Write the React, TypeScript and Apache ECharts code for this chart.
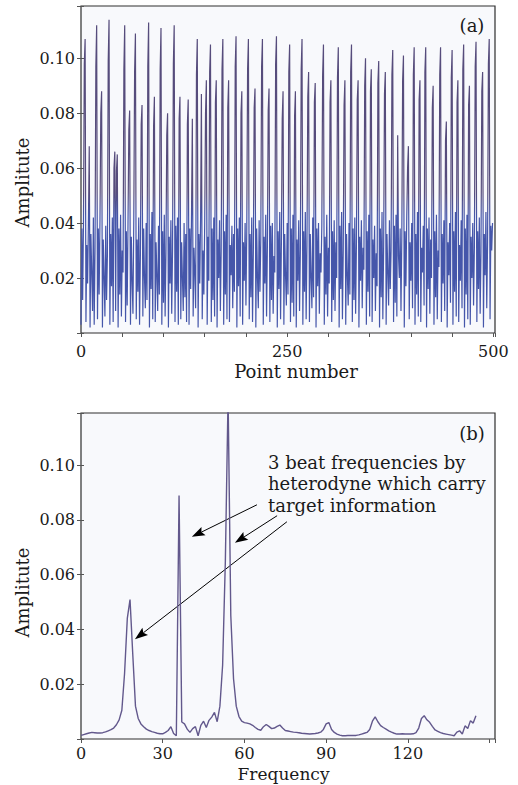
import React, { useEffect, useRef } from 'react';
import * as echarts from 'echarts';

// Panel (a): amplitude (x 0.001) for point numbers 0..499
const pointAmp: number[] = [
  3, 38, 12, 40, 98, 107, 4, 32, 18, 40,
  68, 2, 36, 22, 8, 42, 3, 30, 97, 112,
  5, 38, 14, 41, 80, 88, 2, 34, 20, 6,
  39, 12, 28, 99, 114, 3, 36, 17, 42, 4,
  60, 66, 8, 59, 65, 2, 38, 14, 43, 6,
  30, 22, 96, 112, 4, 37, 10, 40, 74, 81,
  3, 35, 19, 7, 41, 95, 109, 5, 34, 15,
  42, 3, 28, 76, 83, 6, 38, 20, 9, 40,
  12, 97, 113, 2, 36, 16, 44, 5, 75, 86,
  4, 33, 21, 8, 39, 14, 96, 111, 3, 37,
  11, 43, 6, 29, 72, 80, 2, 35, 18, 41,
  7, 30, 98, 112, 4, 39, 15, 42, 3, 78,
  86, 5, 33, 20, 8, 40, 13, 36, 4, 76,
  85, 3, 38, 16, 43, 78, 6, 31, 22, 9,
  94, 107, 2, 36, 18, 41, 87, 5, 30, 14,
  40, 80, 92, 3, 35, 19, 95, 105, 4, 38,
  12, 42, 6, 84, 92, 2, 34, 20, 41, 8,
  30, 96, 107, 3, 37, 14, 43, 5, 82, 92,
  4, 32, 21, 39, 9, 36, 15, 97, 108, 2,
  38, 17, 42, 6, 80, 88, 3, 33, 19, 40,
  10, 37, 96, 107, 5, 36, 13, 42, 4, 30,
  82, 89, 2, 38, 20, 9, 41, 15, 34, 97,
  107, 3, 35, 18, 43, 6, 31, 81, 89, 4,
  39, 12, 40, 7, 28, 22, 98, 108, 2, 37,
  16, 44, 5, 33, 78, 88, 3, 36, 21, 10,
  40, 14, 95, 105, 4, 38, 11, 43, 6, 79,
  88, 2, 34, 19, 41, 8, 30, 96, 107, 3,
  37, 15, 44, 5, 32, 86, 95, 4, 36, 20,
  9, 42, 13, 84, 91, 2, 38, 17, 40, 7,
  29, 22, 39, 94, 105, 3, 35, 14, 43, 6,
  31, 18, 84, 92, 4, 37, 12, 41, 8, 33,
  20, 93, 104, 2, 39, 16, 44, 5, 30, 83,
  92, 3, 36, 21, 10, 40, 14, 95, 105, 4,
  38, 12, 42, 7, 33, 85, 92, 2, 35, 19,
  41, 9, 31, 23, 90, 100, 3, 37, 15, 43,
  6, 88, 96, 4, 34, 20, 39, 8, 29, 17,
  91, 99, 2, 38, 13, 44, 5, 32, 87, 95,
  3, 36, 22, 10, 41, 16, 30, 94, 103, 4,
  39, 11, 43, 6, 72, 28, 20, 38, 8, 35,
  92, 101, 2, 37, 17, 42, 60, 68, 5, 33,
  19, 40, 9, 94, 104, 3, 36, 14, 44, 6,
  85, 92, 4, 31, 22, 39, 10, 95, 104, 2,
  38, 16, 42, 7, 34, 20, 82, 90, 3, 37,
  13, 43, 5, 30, 24, 94, 104, 4, 36, 18,
  41, 8, 70, 77, 2, 33, 21, 40, 11, 93,
  103, 3, 37, 15, 44, 6, 84, 92, 4, 32,
  19, 41, 9, 96, 105, 2, 38, 14, 43, 5,
  83, 90, 3, 35, 20, 40, 10, 31, 97, 106,
  4, 37, 16, 42, 7, 29, 88, 95, 2, 36,
  21, 44, 9, 33, 98, 107, 5, 39, 30, 40,
];

// Panel (b): spectrum amplitude (x 0.001) for frequency 0..145
const specAmp: number[] = [
  1.3, 1.6, 1.9, 2.2, 2.4, 2.3, 2.2, 2.2, 2.3, 2.6,
  3.0, 3.4, 4.0, 5.2, 7.0, 10.5, 24.0, 44.0, 50.9, 31.0,
  12.0, 7.5, 5.5, 4.5, 3.6, 3.1, 2.7, 2.4, 2.1, 1.9,
  1.9, 2.4, 3.1, 4.5, 2.0, 1.2, 88.9, 6.2, 5.5, 3.6,
  2.4, 3.8, 4.5, 1.2, 5.0, 6.5, 4.2, 6.8, 8.0, 9.7,
  6.3, 12.0, 27.0, 65.0, 125.0, 45.0, 22.0, 12.0, 8.2, 6.5,
  6.0, 5.8, 5.5, 5.0, 4.2, 3.5, 3.2, 4.5, 5.3, 4.6,
  3.8, 4.0, 4.6, 5.1, 4.0, 3.1, 2.9, 2.7, 2.5, 2.4,
  2.3, 2.1, 2.0, 1.9, 1.8, 1.9, 2.0, 2.2, 2.5, 3.5,
  5.5, 6.0, 3.5, 2.4, 1.8, 1.4, 1.2, 1.2, 1.3, 1.3,
  1.3, 1.3, 1.5, 1.8, 2.1, 2.4, 3.5, 6.5, 8.1, 6.3,
  4.9, 4.2, 3.6, 3.0, 2.5, 2.1, 1.8, 1.8, 1.9, 1.8,
  1.8, 1.8, 1.9, 2.3, 4.0, 7.5, 8.5, 7.0, 6.1, 4.6,
  3.3, 2.8, 2.3, 2.0, 1.8, 1.6, 1.4, 1.2, 2.5, 3.0,
  1.8, 4.8, 3.8, 6.7, 5.8, 8.5,
];

const pointLabelStep = 250;
const pointLabelMax = 500;
const pointTopStep = 50;
const freqStep = 30;
const freqLabelMax = 120;
const ampStep = 0.02;
const annotationLines = ['3 beat frequencies by', 'heterodyne which carry', 'target information'];
// arrow start / tip (data coordinates of panel b)
const arrowFrom = [[64.6, 0.0855], [72.0, 0.0815], [75.6, 0.0793]];
const arrowTo = [[40.7, 0.0738], [56.5, 0.0716], [19.8, 0.0364]];

const FONT = '"DejaVu Serif", serif';
const TXT = '#1a1a1a';

const tickStyle = { show: true, inside: true, length: 4, lineStyle: { color: '#555', width: 1 } };

function xAxes(gridIndex: number, max: number, step: number, labelMax: number, topStep: number, margin: number) {
  return [
    {
      gridIndex, type: 'value', position: 'bottom', min: 0, max, interval: step,
      axisLine: { show: false }, axisTick: { show: false }, splitLine: { show: false },
      axisLabel: {
        formatter: (v: number) =>
          Math.abs(v / step - Math.round(v / step)) < 1e-6 && v <= labelMax ? String(v) : '',
        margin, color: TXT, fontFamily: FONT, fontSize: 16, lineHeight: 14,
      },
    },
    {
      gridIndex, type: 'value', position: 'top', min: 0, max, interval: topStep,
      axisLine: { show: false }, splitLine: { show: false }, axisLabel: { show: false },
      axisTick: tickStyle,
    },
  ];
}

function yAxes(gridIndex: number) {
  return [
    {
      gridIndex, type: 'value', position: 'left', min: 0, max: 0.119, interval: ampStep,
      axisLine: { show: false }, splitLine: { show: false },
      axisTick: { ...tickStyle, length: 3 },
      axisLabel: {
        formatter: (v: number) => (v > 0.001 && v < 0.11 ? v.toFixed(2) : ''),
        margin: 6, color: TXT, fontFamily: FONT, fontSize: 16,
      },
    },
    {
      gridIndex, type: 'value', position: 'right', min: 0, max: 0.119, interval: ampStep,
      axisLine: { show: false }, splitLine: { show: false }, axisLabel: { show: false },
      axisTick: tickStyle,
    },
  ];
}

function label(text: string, x: number, y: number, extra: any = {}) {
  const { style, ...rest } = extra;
  return {
    type: 'text', x, y, silent: true, ...rest,
    style: { text, fill: TXT, fontFamily: FONT, fontSize: 18, lineHeight: 16, align: 'center', verticalAlign: 'middle', ...(style || {}) },
  };
}

export default function App() {
  const ref = useRef<HTMLDivElement>(null);
  useEffect(() => {
    const chart = echarts.init(ref.current!, null, { renderer: 'svg' });
    const gridCommon = { show: true, backgroundColor: '#f8f9fc', borderColor: '#2e2e2e', borderWidth: 1.2 };
    const signalColor = new echarts.graphic.LinearGradient(0, 0, 0, 1, [
      { offset: 0, color: '#564c7c' },
      { offset: 0.56, color: '#564c7c' },
      { offset: 0.64, color: '#4556aa' },
      { offset: 1, color: '#4556aa' },
    ]);
    const option: any = {
      animation: false,
      backgroundColor: '#ffffff',
      grid: [
        { ...gridCommon, left: 81, top: 6, width: 414, height: 327 },
        { ...gridCommon, left: 81, top: 413, width: 414, height: 326 },
      ],
      xAxis: [
        ...xAxes(0, 502, pointLabelStep, pointLabelMax, pointTopStep, 11),
        ...xAxes(1, 152, freqStep, freqLabelMax, freqStep, 7),
      ],
      yAxis: [...yAxes(0), ...yAxes(1)],
      series: [
        {
          type: 'line', xAxisIndex: 0, yAxisIndex: 0, silent: true, showSymbol: false, symbol: 'none',
          data: pointAmp.map((v, i) => [i, v / 1000]),
          lineStyle: { width: 1.2, color: signalColor },
        },
        {
          type: 'line', xAxisIndex: 2, yAxisIndex: 2, silent: true, showSymbol: false, symbol: 'none',
          data: specAmp.map((v, i) => [i, v / 1000]),
          lineStyle: { width: 1.4, color: '#62588c' },
        },
      ],
    };
    chart.setOption(option);

    // annotation arrows placed through the panel (b) axes
    const arrowEls: any[] = [];
    arrowFrom.forEach((from, i) => {
      const p0 = chart.convertToPixel({ seriesIndex: 1 }, from) as number[];
      const p1 = chart.convertToPixel({ seriesIndex: 1 }, arrowTo[i]) as number[];
      if (!p0 || !p1) return;
      const dx = p1[0] - p0[0];
      const dy = p1[1] - p0[1];
      const len = Math.sqrt(dx * dx + dy * dy);
      const ux = dx / len, uy = dy / len;
      const nx = -uy, ny = ux;
      const L = 13, W = 4.6;
      const bx = p1[0] - ux * L, by = p1[1] - uy * L;
      const mx = p1[0] - ux * L * 0.82, my = p1[1] - uy * L * 0.82;
      arrowEls.push({
        type: 'line', silent: true,
        shape: { x1: p0[0], y1: p0[1], x2: mx, y2: my },
        style: { stroke: '#000', lineWidth: 1 },
      });
      arrowEls.push({
        type: 'polygon', silent: true,
        shape: { points: [[p1[0], p1[1]], [bx + nx * W, by + ny * W], [mx, my], [bx - nx * W, by - ny * W]] },
        style: { fill: '#000' },
      });
    });

    chart.setOption({
      graphic: [
        label('(a)', 472, 25),
        label('(b)', 472, 433.5),
        label('Amplitute', 22.5, 182.5, { rotation: Math.PI / 2 }),
        label('Amplitute', 22.5, 592.5, { rotation: Math.PI / 2 }),
        label('Point number', 296, 371.5),
        label('Frequency', 283.5, 774, { style: { fontSize: 17 } }),
        {
          type: 'text', x: 268, y: 452, silent: true,
          style: { text: annotationLines.join('\n'), fill: TXT, fontFamily: FONT, fontSize: 18, lineHeight: 21.3, align: 'left', verticalAlign: 'top' },
        },
        ...arrowEls,
      ],
    });
    return () => chart.dispose();
  }, []);
  return <div ref={ref} style={{ position: 'absolute', left: 0, top: 0, width: 518, height: 785, background: '#fff' }} />;
}
